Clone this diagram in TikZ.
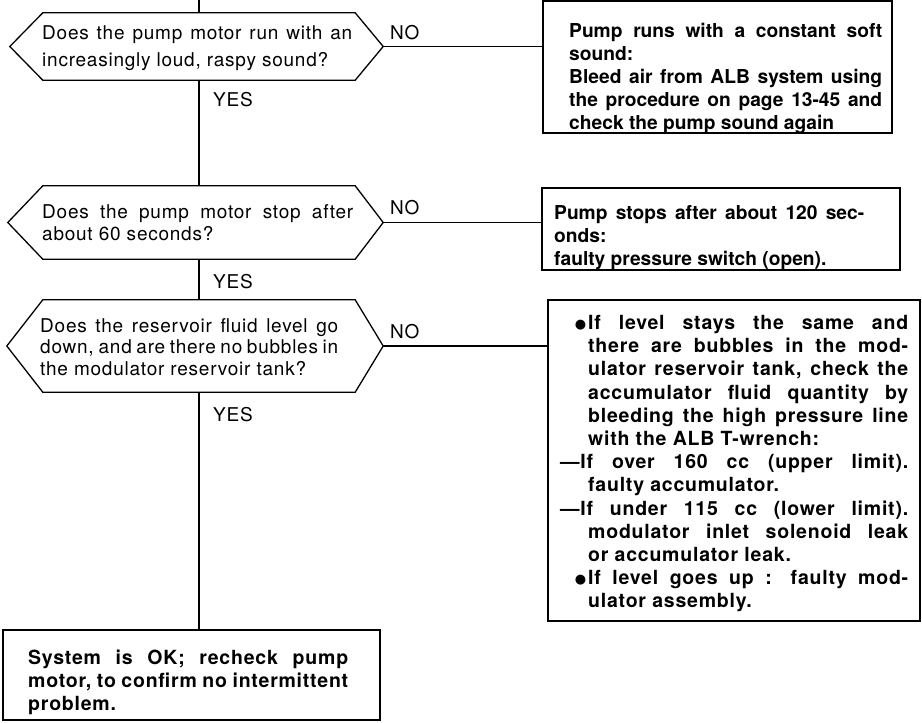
\documentclass[tikz,border=0pt]{standalone}
\usepackage{fontspec}
\setmainfont{TeX Gyre Heros}
\newfontfamily\regf[LetterSpace=4]{TeX Gyre Heros}
\newfontfamily\dejavu{DejaVu Sans}
\newcommand{\mybul}{\raisebox{1.2pt}{\dejavu\fontsize{13}{13}\selectfont ●}}
\tikzset{
  ln/.style={line width=1.3pt},
  dec/.style={draw=none, inner sep=0pt, minimum width=312pt},
  box/.style={draw, line width=1.3pt, inner sep=0pt},
  txt/.style={anchor=north west, inner sep=0pt, align=justify,
    execute at begin node={\parindent=0pt\tolerance=10000\hbadness=10000\hfuzz=20pt\hyphenpenalty=10000\exhyphenpenalty=10000}},
  qtext/.style={txt, font=\regf\fontsize{19}{#1}\selectfont},
  atext/.style={txt, font=\bfseries\fontsize{19.2}{#1}\selectfont},
  atextw/.style={txt, font=\regf\bfseries\fontsize{19.5}{#1}\selectfont},
  lbl/.style={anchor=west, inner sep=0pt, font=\regf\fontsize{19}{20}\selectfont},
}
\begin{document}
\begin{tikzpicture}[x=1pt,y=-1pt]
\useasboundingbox (0,0) rectangle (922,723);

% decisions
\node[dec, minimum height=67pt] (d1) at (199,46.5) {};
\node[dec, minimum height=73pt] (d2) at (199,222.5) {};
\node[dec, minimum height=92pt] (d3) at (199,346) {};
\coordinate (d1l) at ([xshift=-33pt]d1.west);
\coordinate (d1r) at ([xshift=28pt]d1.east);
\coordinate (d2l) at ([xshift=-35pt]d2.west);
\coordinate (d2r) at ([xshift=28pt]d2.east);
\coordinate (d3l) at ([xshift=-36pt]d3.west);
\coordinate (d3r) at ([xshift=28pt]d3.east);
\draw[ln] (d1.north west) -- (d1.north east) -- (d1r) -- (d1.south east) -- (d1.south west) -- (d1l) -- cycle;
\draw[ln] (d2.north west) -- (d2.north east) -- (d2r) -- (d2.south east) -- (d2.south west) -- (d2l) -- cycle;
\draw[ln] (d3.north west) -- (d3.north east) -- (d3r) -- (d3.south east) -- (d3.south west) -- (d3l) -- cycle;

\node[qtext=27, text width=310pt] (q1) at (42,25) {Does the pump motor run with an\linebreak increasingly loud, raspy sound?\par};
\node[qtext=22, text width=311pt] (q2) at (42,204) {Does the pump motor stop after\linebreak about 60 seconds?\par};
\node[qtext=21.5, text width=298pt] (q3) at (40,318) {Does the reservoir fluid level go\linebreak down, and are there no bubbles in\linebreak the modulator reservoir tank?\par};

% boxes
\node[box, minimum width=349pt, minimum height=132pt] (b1) at (717.5,67) {};
\node[box, minimum width=358pt, minimum height=82pt] (b2) at (721,229) {};
\node[box, minimum width=372pt, minimum height=321pt] (b3) at (734,460.5) {};
\node[box, minimum width=377pt, minimum height=90pt] (b4) at (191.5,675) {};

\node[atext=23, text width=313pt] (a1) at (569,23) {Pump runs with a constant soft\linebreak sound:\par Bleed air from ALB system using\linebreak the procedure on page 13-45 and\linebreak check the pump sound again\par};
\node[atext=23, text width=310pt] (a2) at (554,205) {Pump stops after about 120 sec-\linebreak onds:\par faulty pressure switch (open).\par};
\node[atextw=23.2, text width=348pt] (a3) at (560,315) {%
\noindent\hangindent=28pt\hangafter=0\llap{\mybul\hspace{2pt}}If level stays the same and\linebreak there are bubbles in the mod-\linebreak ulator reservoir tank, check the\linebreak accumulator  fluid quantity by\linebreak bleeding the high pressure line\linebreak with the ALB T-wrench:\par
\noindent\hangindent=28pt\hangafter=1 —If over 160 cc (upper limit).\linebreak faulty accumulator.\par
\noindent\hangindent=28pt\hangafter=1 —If under 115 cc (lower limit).\linebreak modulator inlet solenoid leak\linebreak or accumulator leak.\par
\noindent\hangindent=28pt\hangafter=0\llap{\mybul\hspace{2pt}}If level goes up : faulty mod-\linebreak ulator assembly.\par};
\node[atextw=23, text width=320pt] (a4) at (28,650) {System is OK; recheck pump\linebreak motor, to confirm no intermittent\linebreak problem.\par};

% connectors
\coordinate (top) at (199,0);
\draw[ln] (top) -- (d1.north);
\draw[ln] (d1.south) -- (d2.north);
\draw[ln] (d2.south) -- (d3.north);
\draw[ln] (d3.south) -- (d3.south |- b4.north);
\draw[ln] (d1r) -- (d1r -| b1.west);
\draw[ln] (d2r) -- (d2r -| b2.west);
\draw[ln] (d3r) -- (d3r -| b3.west);

% labels
\node[lbl] (no1) at (390,33) {NO};
\node[lbl] (no2) at (390,208) {NO};
\node[lbl] (no3) at (390,332) {NO};
\node[lbl] (yes1) at (213,100) {YES};
\node[lbl] (yes2) at (213,282) {YES};
\node[lbl] (yes3) at (213,415) {YES};
\end{tikzpicture}
\end{document}
